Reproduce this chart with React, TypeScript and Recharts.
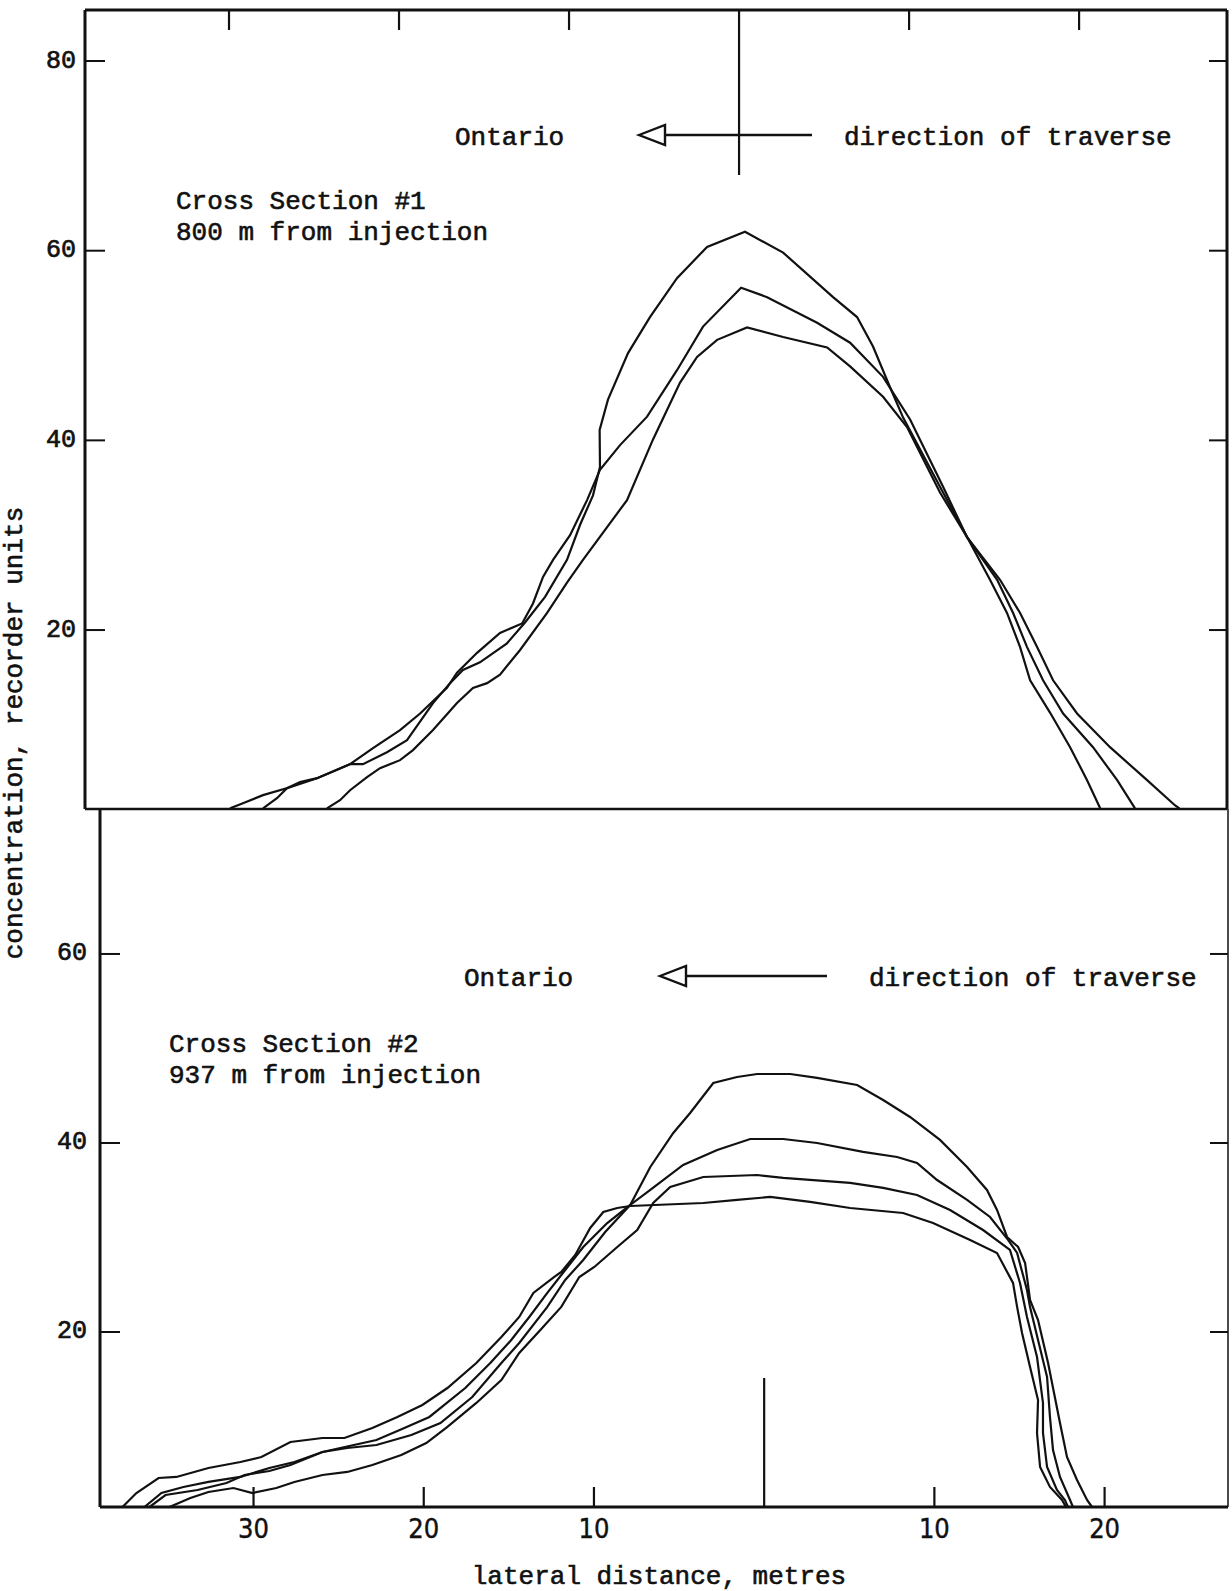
import React from 'react';
import { LineChart, Line, XAxis, YAxis } from 'recharts';

// ---------- Cross Section #1 (800 m from injection) : [lateral distance m (left negative), concentration] ----------
const cs1RunA: [number, number][] = [
  [-28.0, 1.2], [-27.18, 2.27], [-26.59, 3.32], [-25.82, 3.96], [-24.82, 4.38], [-22.88, 5.86], [-22.12, 5.86],
  [-20.71, 7.12], [-19.53, 8.39], [-18.0, 12.3], [-17.0, 14.4], [-16.24, 15.8], [-15.24, 16.6], [-13.65, 18.6],
  [-12.59, 20.8], [-11.41, 23.5], [-10.12, 27.4], [-9.35, 31.1], [-8.59, 34.2], [-8.18, 37.2], [-8.2, 41.1],
  [-7.71, 44.3], [-6.53, 49.2], [-5.24, 53.0], [-3.65, 57.1], [-1.88, 60.4], [0.35, 62.0], [2.59, 59.8],
  [5.53, 55.1], [6.94, 53.0], [7.88, 49.9], [8.88, 45.6], [9.65, 42.4], [12.0, 34.5], [13.41, 29.8],
  [14.76, 25.3], [15.76, 21.8], [16.53, 18.2], [17.12, 14.7], [18.29, 11.3], [19.47, 7.65], [20.47, 4.17], [21.24, 1.2],
];
const cs1RunB: [number, number][] = [
  [-29.94, 1.2], [-29.18, 1.74], [-28.0, 2.59], [-26.41, 3.43], [-24.82, 4.38], [-22.88, 5.86], [-21.53, 7.55],
  [-19.94, 9.45], [-18.76, 11.2], [-17.18, 13.9], [-16.59, 15.5], [-15.41, 17.6], [-14.06, 19.7], [-12.76, 20.7],
  [-12.12, 22.8], [-11.53, 25.6], [-10.94, 27.4], [-9.94, 30.0], [-8.94, 33.7], [-8.18, 36.9], [-7.0, 39.5],
  [-5.41, 42.5], [-3.65, 47.4], [-2.12, 52.0], [0.12, 56.1], [1.65, 55.1], [4.59, 52.4], [6.53, 50.3],
  [8.47, 46.7], [10.06, 42.2], [12.0, 35.1], [13.41, 29.8], [15.18, 25.3], [16.12, 21.8], [16.94, 18.2],
  [17.88, 14.7], [19.06, 11.2], [20.82, 7.65], [22.24, 4.17], [23.29, 1.2],
];
const cs1RunC: [number, number][] = [
  [-24.24, 1.2], [-23.47, 2.06], [-22.88, 3.11], [-21.88, 4.49], [-21.12, 5.44], [-19.94, 6.28], [-19.18, 7.34],
  [-18.0, 9.45], [-16.59, 12.3], [-15.65, 13.9], [-14.82, 14.4], [-14.06, 15.3], [-12.88, 17.9], [-11.29, 21.8],
  [-10.12, 25.0], [-9.18, 27.4], [-6.59, 33.7], [-5.06, 40.1], [-3.47, 46.1], [-2.47, 48.8], [-1.29, 50.6],
  [0.47, 51.9], [2.59, 50.9], [5.18, 49.8], [6.53, 47.8], [8.47, 44.6], [9.88, 41.4], [11.82, 34.5],
  [13.41, 29.8], [15.35, 25.3], [16.53, 21.8], [17.53, 18.2], [18.47, 14.7], [19.88, 11.2], [21.82, 7.65],
  [24.0, 4.17], [25.65, 1.5], [25.9, 1.2],
];

// ---------- Cross Section #2 (937 m from injection) ----------
const cs2RunP: [number, number][] = [
  [-36.41, 1.48], [-35.41, 2.96], [-34.12, 3.6], [-32.65, 4.13], [-30.77, 4.66], [-29.07, 5.61], [-27.6, 6.24],
  [-25.95, 7.3], [-24.9, 7.72], [-22.78, 8.57], [-21.14, 9.84], [-19.67, 11.01], [-17.56, 14.07], [-16.09, 16.72],
  [-14.86, 19.15], [-13.8, 21.59], [-12.74, 24.13], [-11.69, 26.56], [-10.63, 28.99], [-9.22, 31.53], [-7.87, 33.44],
  [-6.69, 37.46], [-5.34, 41.06], [-4.35, 43.17], [-2.99, 46.35], [-1.59, 46.98], [-0.41, 47.3], [1.53, 47.3],
  [3.11, 46.88], [5.46, 46.14], [6.99, 44.55], [8.57, 42.75], [10.33, 40.32], [11.92, 37.46], [13.09, 35.03],
  [13.68, 32.91], [14.27, 30.05], [14.92, 28.99], [15.33, 27.3], [15.62, 23.39], [16.09, 21.27], [16.68, 16.72],
  [17.38, 10.37], [17.79, 6.77], [18.38, 4.34], [18.97, 2.22], [19.26, 1.48],
];
const cs2RunQ: [number, number][] = [
  [-36.11, 1.48], [-35.17, 2.75], [-33.29, 3.28], [-31.59, 4.02], [-30.53, 4.87], [-29.07, 5.29], [-27.83, 5.93],
  [-25.95, 7.3], [-24.49, 7.72], [-22.78, 8.04], [-20.73, 9.1], [-19.02, 10.37], [-17.15, 13.12], [-15.44, 16.72],
  [-14.39, 18.84], [-12.74, 22.65], [-11.69, 25.5], [-10.63, 27.62], [-9.34, 30.58], [-7.87, 33.44], [-6.69, 35.03],
  [-4.76, 37.67], [-2.76, 39.26], [-0.82, 40.42], [1.12, 40.42], [3.11, 40.0], [5.81, 39.05], [7.81, 38.52],
  [8.98, 37.88], [10.16, 36.08], [11.92, 33.97], [13.27, 32.17], [14.33, 29.74], [14.86, 28.36], [15.44, 24.44],
  [15.62, 22.65], [16.09, 19.15], [16.62, 15.24], [16.79, 11.01], [16.97, 7.51], [17.38, 4.66], [17.97, 2.22], [18.14, 1.48],
];
const cs2RunR: [number, number][] = [
  [-34.94, 1.48], [-33.71, 2.43], [-32.65, 3.07], [-31.18, 3.49], [-30.06, 2.96], [-28.66, 3.49], [-27.6, 4.13],
  [-25.95, 4.87], [-24.49, 5.19], [-23.02, 5.93], [-21.32, 6.98], [-19.85, 8.25], [-18.61, 9.95], [-16.91, 12.49],
  [-15.44, 14.92], [-14.39, 17.78], [-13.15, 20.21], [-11.92, 22.65], [-10.86, 25.82], [-9.98, 26.88], [-8.63, 28.99],
  [-7.46, 30.79], [-6.52, 33.65], [-5.52, 35.34], [-3.58, 36.4], [-0.41, 36.61], [1.12, 36.3], [5.05, 35.77],
  [6.99, 35.24], [8.98, 34.5], [10.92, 32.91], [12.86, 30.79], [14.44, 28.68], [15.03, 25.19], [15.44, 21.59],
  [16.03, 17.35], [16.38, 12.49], [16.38, 9.31], [16.62, 5.71], [17.2, 3.28], [17.67, 2.22], [17.85, 1.48],
];
const cs2RunS: [number, number][] = [
  [-37.7, 1.48], [-36.88, 2.96], [-35.58, 4.55], [-34.53, 4.66], [-32.65, 5.61], [-30.77, 6.24], [-29.54, 6.77],
  [-27.83, 8.36], [-25.95, 8.78], [-24.66, 8.78], [-23.02, 9.84], [-21.55, 11.01], [-20.08, 12.28], [-18.61, 14.07],
  [-16.91, 16.72], [-15.44, 19.47], [-14.39, 21.59], [-13.56, 24.13], [-12.33, 25.82], [-11.92, 26.35], [-11.1, 28.15],
  [-10.22, 31.01], [-9.45, 32.7], [-8.63, 33.12], [-7.87, 33.33], [-3.58, 33.65], [-1.59, 33.97], [0.35, 34.29],
  [2.7, 33.76], [5.05, 33.12], [8.16, 32.59], [9.92, 31.53], [12.1, 29.74], [13.68, 28.36], [14.62, 25.19],
  [14.86, 22.65], [15.15, 19.89], [15.62, 16.3], [16.09, 12.8], [16.03, 9.31], [16.21, 5.71], [16.79, 3.6],
  [17.5, 2.22], [17.73, 1.48],
];

// ---------- axes ----------
const xTicks = [-30, -20, -10, 0, 10, 20];
const topYTicks = [20, 40, 60, 80];
const botYTicks = [20, 40, 60];
const topXDomain: [number, number] = [-38.47, 28.7];
const topYDomain: [number, number] = [1.13, 85.38];
const botXDomain: [number, number] = [-39.02, 27.25];
const botYDomain: [number, number] = [1.48, 75.34];

const toPts = (a: [number, number][]) => a.map(([x, y]) => ({ x, y }));

const MONO = "'Liberation Mono', 'Courier New', 'DejaVu Sans Mono', monospace";
const INK = '#111';
const TICK = 20;

const LeftTick = (p: any) => (
  <g>
    <line x1={p.x} y1={p.y} x2={p.x + TICK} y2={p.y} stroke={INK} strokeWidth={2} />
    <text x={p.x - p.gap} y={p.y} textAnchor="end" dominantBaseline="central" fontFamily={MONO} fontSize={25}
      fill={INK} stroke={INK} strokeWidth={0.7}>
      {p.payload.value}
    </text>
  </g>
);
const RightTick = (p: any) => (
  <line x1={p.x} y1={p.y} x2={p.x - 18} y2={p.y} stroke={INK} strokeWidth={2} />
);
const TopTick = (p: any) => (
  <line x1={p.x} y1={p.y} x2={p.x} y2={p.y + (p.payload.value === 0 ? 165 : TICK)} stroke={INK} strokeWidth={2.2} />
);
const BottomTick = (p: any) => (
  <g>
    <line x1={p.x} y1={p.y} x2={p.x} y2={p.y - (p.payload.value === 0 ? 129 : TICK)} stroke={INK} strokeWidth={2.2} />
    {p.payload.value !== 0 && (
      <text x={p.x} y={p.y + 21} textAnchor="middle" dominantBaseline="central"
        fontFamily="'Liberation Sans Narrow', 'DejaVu Sans Condensed', 'Liberation Mono', monospace" fontSize={27}
        fill={INK} stroke={INK} strokeWidth={0.4}>
        {Math.abs(p.payload.value)}
      </text>
    )}
  </g>
);

const frame = { stroke: INK, strokeWidth: 3 };
const lineProps = { dataKey: 'y', dot: false, stroke: INK, strokeWidth: 2.2, type: 'linear' as const, isAnimationActive: false, activeDot: false };

export default function App() {
  return (
    <div style={{ position: 'absolute', left: 0, top: 0, width: 1232, height: 1591, background: '#fff', overflow: 'hidden' }}>
      {/* Cross section #1 */}
      <div style={{ position: 'absolute', left: 0, top: 0 }}>
        <LineChart width={1232} height={1591} margin={{ top: 0, right: 0, bottom: 0, left: 0 }}>
          <XAxis xAxisId="b" type="number" dataKey="x" domain={topXDomain} allowDataOverflow orientation="bottom"
            height={782} tick={false} tickLine={false} axisLine={{ stroke: INK, strokeWidth: 2.5 }} />
          <XAxis xAxisId="t" type="number" dataKey="x" domain={topXDomain} allowDataOverflow orientation="top"
            height={10} ticks={xTicks} interval={0} tickSize={0} tickMargin={0} tickLine={false}
            tick={(p: any) => <TopTick {...p} />} axisLine={frame} />
          <YAxis yAxisId="l" type="number" domain={topYDomain} allowDataOverflow width={85} ticks={topYTicks} interval={0}
            tickSize={0} tickMargin={0} tickLine={false} tick={(p: any) => <LeftTick {...p} gap={9} />} axisLine={frame} />
          <YAxis yAxisId="r" orientation="right" type="number" domain={topYDomain} allowDataOverflow width={5} ticks={topYTicks}
            interval={0} tickSize={0} tickMargin={0} tickLine={false} tick={(p: any) => <RightTick {...p} />} axisLine={frame} />
          <Line xAxisId="b" yAxisId="l" data={toPts(cs1RunA)} {...lineProps} />
          <Line xAxisId="b" yAxisId="l" data={toPts(cs1RunB)} {...lineProps} />
          <Line xAxisId="b" yAxisId="l" data={toPts(cs1RunC)} {...lineProps} />
        </LineChart>
      </div>

      {/* Cross section #2 */}
      <div style={{ position: 'absolute', left: 0, top: 0 }}>
        <LineChart width={1232} height={1591} margin={{ top: 809, right: 0, bottom: 0, left: 0 }}>
          <XAxis xAxisId="b" type="number" dataKey="x" domain={botXDomain} allowDataOverflow orientation="bottom"
            height={84} ticks={xTicks} interval={0} tickSize={0} tickMargin={0} tickLine={false}
            tick={(p: any) => <BottomTick {...p} />} axisLine={frame} />
          <YAxis yAxisId="l" type="number" domain={botYDomain} allowDataOverflow width={100} ticks={botYTicks} interval={0}
            tickSize={0} tickMargin={0} tickLine={false} tick={(p: any) => <LeftTick {...p} gap={13} />} axisLine={frame} />
          <YAxis yAxisId="r" orientation="right" type="number" domain={botYDomain} allowDataOverflow width={4} ticks={botYTicks}
            interval={0} tickSize={0} tickMargin={0} tickLine={false} tick={(p: any) => <RightTick {...p} />}
            axisLine={{ stroke: INK, strokeWidth: 1.5 }} />
          <Line xAxisId="b" yAxisId="l" data={toPts(cs2RunP)} {...lineProps} />
          <Line xAxisId="b" yAxisId="l" data={toPts(cs2RunQ)} {...lineProps} />
          <Line xAxisId="b" yAxisId="l" data={toPts(cs2RunR)} {...lineProps} />
          <Line xAxisId="b" yAxisId="l" data={toPts(cs2RunS)} {...lineProps} />
        </LineChart>
      </div>

      {/* annotations */}
      <svg width={1232} height={1591} style={{ position: 'absolute', left: 0, top: 0, pointerEvents: 'none' }}>
        <g fontFamily={MONO} fontSize={26} fill={INK} stroke={INK} strokeWidth={0.6}>
          <text x={455} y={145}>Ontario</text>
          <text x={844} y={145}>direction of traverse</text>
          <text x={176} y={209}>Cross Section #1</text>
          <text x={176} y={240}>800 m from injection</text>
          <text x={464} y={986}>Ontario</text>
          <text x={869} y={986}>direction of traverse</text>
          <text x={169} y={1052}>Cross Section #2</text>
          <text x={169} y={1083}>937 m from injection</text>
          <text x={659} y={1584} textAnchor="middle">lateral distance, metres</text>
          <text transform="translate(22,733) rotate(-90)" textAnchor="middle">concentration, recorder units</text>
        </g>
        <g fill="none" stroke={INK} strokeWidth={2.4}>
          <polygon points="639,135 665,125 665,145" />
          <line x1={665} y1={135} x2={812} y2={135} />
          <polygon points="660,976 686,966 686,986" />
          <line x1={686} y1={976} x2={827} y2={976} />
        </g>
      </svg>
    </div>
  );
}
